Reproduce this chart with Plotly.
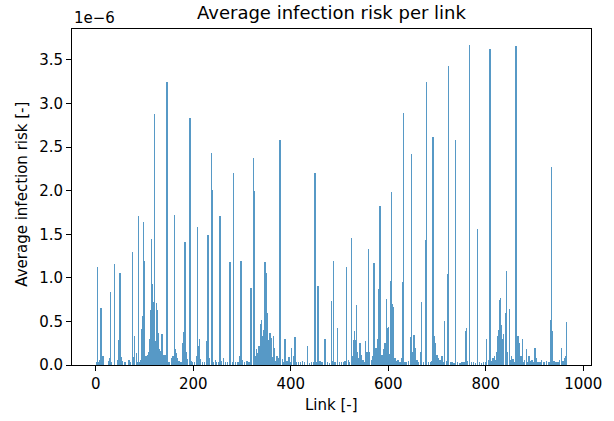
import plotly.graph_objects as go

# (link index, average infection risk in units of 1e-6)
peak_bars = [
    (4, 1.13), (11, 0.65), (30, 0.84), (39, 1.16), (46, 0.29), (49, 0.42), (50, 1.05), (53, 0.09),
    (75, 1.30), (80, 0.33), (87, 0.85), (88, 1.71), (95, 0.41), (96, 0.56), (97, 0.37), (98, 1.64),
    (100, 1.19), (113, 0.63), (114, 1.44), (116, 0.93), (117, 0.52), (118, 0.72), (119, 0.44),
    (121, 2.88), (124, 0.71), (126, 0.63), (128, 0.37), (131, 0.18), (136, 0.36), (138, 0.12),
    (145, 1.00), (146, 3.25), (161, 0.25), (162, 1.72), (164, 0.18), (178, 0.25), (181, 0.38),
    (183, 1.41), (192, 2.04), (193, 2.83), (207, 0.10), (208, 1.58), (210, 0.22), (213, 0.30),
    (227, 0.28), (230, 1.49), (237, 2.43), (238, 2.01), (255, 1.71), (262, 0.08), (275, 1.18),
    (282, 2.20), (283, 2.10), (296, 0.10), (298, 1.19), (318, 0.88), (324, 2.37), (325, 2.00),
    (330, 0.18), (335, 0.22), (339, 0.47), (340, 0.52), (343, 0.33), (344, 0.40), (347, 1.18),
    (348, 0.56), (350, 1.05), (352, 0.60), (354, 0.29), (357, 0.37), (361, 0.31), (364, 0.33),
    (366, 0.20), (378, 2.58), (379, 2.08), (388, 0.30), (401, 0.20), (402, 0.15), (407, 0.25),
    (409, 0.32), (434, 0.22), (450, 2.20), (456, 0.91), (469, 0.25), (470, 0.30), (483, 0.73),
    (488, 1.19), (496, 0.42), (514, 1.13), (524, 1.46), (530, 0.29), (531, 0.39), (533, 0.29),
    (535, 0.69), (542, 0.25), (553, 0.28), (559, 1.33), (571, 1.17), (572, 0.78), (578, 0.30),
    (580, 0.87), (582, 1.45), (583, 1.82), (584, 1.14), (593, 0.25), (596, 0.76), (598, 0.42),
    (600, 0.44), (605, 0.96), (606, 1.99), (607, 0.60), (609, 0.70), (611, 0.66), (630, 0.95),
    (631, 2.89), (646, 0.32), (647, 2.42), (648, 0.41), (653, 0.34), (656, 0.20), (667, 0.15),
    (668, 0.72), (677, 1.43), (678, 3.25), (692, 2.62), (694, 0.33), (697, 0.25), (700, 0.12),
    (715, 0.51), (722, 1.04), (723, 3.43), (738, 2.58), (759, 0.39), (760, 0.43), (766, 0.74),
    (767, 3.67), (783, 1.56), (802, 0.30), (808, 0.73), (809, 3.63), (822, 0.15), (825, 0.33),
    (827, 0.40), (829, 0.75), (830, 0.77), (831, 0.46), (834, 0.30), (836, 0.36), (840, 0.60),
    (842, 1.08), (848, 0.64), (862, 3.66), (863, 0.63), (866, 0.33), (868, 0.25), (875, 0.30),
    (883, 0.18), (901, 0.20), (934, 0.52), (935, 2.27), (936, 0.39), (937, 0.29), (955, 0.20),
    (966, 0.49),
]

low_bars = [
    (1, 0.04), (3, 0.05), (6, 0.03), (9, 0.06), (13, 0.05), (15, 0.10), (26, 0.05), (28, 0.08),
    (32, 0.04), (44, 0.06), (51, 0.19), (55, 0.05), (60, 0.03), (68, 0.06), (70, 0.04), (78, 0.09),
    (83, 0.14), (85, 0.04), (91, 0.04), (93, 0.06), (103, 0.10), (105, 0.04), (107, 0.12),
    (109, 0.15), (111, 0.30), (120, 0.20), (123, 0.27), (129, 0.13), (133, 0.16), (140, 0.06),
    (142, 0.12), (150, 0.03), (155, 0.08), (158, 0.10), (166, 0.14), (168, 0.08), (171, 0.05),
    (175, 0.03), (185, 0.15), (187, 0.07), (196, 0.05), (199, 0.03), (202, 0.04), (212, 0.06),
    (215, 0.07), (219, 0.04), (223, 0.03), (233, 0.08), (242, 0.04), (245, 0.06), (248, 0.03),
    (252, 0.04), (258, 0.05), (266, 0.04), (270, 0.03), (280, 0.04), (287, 0.04), (292, 0.03),
    (301, 0.06), (305, 0.04), (310, 0.05), (314, 0.04), (320, 0.06), (328, 0.10), (332, 0.14),
    (337, 0.12), (345, 0.16), (356, 0.11), (359, 0.16), (363, 0.09), (369, 0.05), (372, 0.10),
    (375, 0.08), (383, 0.07), (386, 0.04), (392, 0.05), (396, 0.09), (398, 0.04), (405, 0.10),
    (412, 0.04), (416, 0.03), (420, 0.03), (424, 0.05), (428, 0.03), (438, 0.02), (443, 0.04),
    (446, 0.03), (453, 0.04), (460, 0.05), (464, 0.03), (475, 0.04), (479, 0.02), (486, 0.05),
    (491, 0.03), (500, 0.03), (504, 0.04), (508, 0.03), (511, 0.05), (518, 0.06), (521, 0.03),
    (527, 0.10), (537, 0.15), (539, 0.08), (545, 0.12), (548, 0.06), (550, 0.04), (556, 0.15),
    (562, 0.15), (565, 0.06), (568, 0.10), (575, 0.20), (587, 0.12), (590, 0.18), (602, 0.13),
    (614, 0.08), (617, 0.05), (620, 0.06), (624, 0.04), (627, 0.08), (634, 0.04), (637, 0.03),
    (641, 0.05), (651, 0.15), (659, 0.06), (662, 0.04), (672, 0.03), (682, 0.03), (686, 0.04),
    (689, 0.05), (699, 0.10), (703, 0.08), (706, 0.06), (710, 0.10), (713, 0.04), (719, 0.05),
    (727, 0.03), (731, 0.04), (735, 0.02), (742, 0.03), (747, 0.02), (751, 0.04), (755, 0.03),
    (763, 0.05), (771, 0.04), (775, 0.03), (779, 0.02), (787, 0.03), (791, 0.02), (795, 0.04),
    (799, 0.03), (805, 0.06), (812, 0.05), (815, 0.08), (818, 0.10), (820, 0.06), (845, 0.15),
    (851, 0.06), (853, 0.10), (856, 0.07), (859, 0.04), (870, 0.06), (872, 0.10), (878, 0.04),
    (880, 0.06), (886, 0.04), (889, 0.10), (892, 0.05), (895, 0.06), (898, 0.04), (904, 0.08),
    (907, 0.04), (911, 0.03), (914, 0.06), (918, 0.04), (921, 0.03), (925, 0.05), (928, 0.03),
    (931, 0.04), (940, 0.05), (944, 0.03), (948, 0.04), (951, 0.06), (958, 0.05), (961, 0.08),
    (964, 0.10),
]

y_ticks = [0.0, 0.5, 1.0, 1.5, 2.0, 2.5, 3.0, 3.5]
x_ticks = [0, 200, 400, 600, 800, 1000]

bars = sorted(peak_bars + low_bars)
links = [b[0] for b in bars]
risk = [b[1] for b in bars]

BLUE = "#1f77b4"
FONT = "DejaVu Sans"
TICK_SIZE = 15
TITLE_SIZE = 18

fig = go.Figure()
fig.add_trace(go.Bar(
    x=links, y=risk, width=0.8,
    marker=dict(color=BLUE, line=dict(width=0)),
    opacity=0.75,
))

axis_common = dict(
    automargin=False,
    showline=True, linecolor="black", linewidth=1, mirror=True,
    ticks="outside", ticklen=5, tickwidth=1, tickcolor="black",
    showgrid=False, zeroline=False,
    tickfont=dict(family=FONT, size=TICK_SIZE, color="black"),
)

fig.update_layout(
    width=614, height=421,
    margin=dict(l=72, r=23, t=29, b=56, autoexpand=False),
    paper_bgcolor="white", plot_bgcolor="white",
    showlegend=False,
    bargap=0,
    xaxis=dict(range=[-48.8, 1015.8], tickvals=x_ticks, **axis_common),
    yaxis=dict(range=[0, 3.855], tickvals=y_ticks, tickformat=".1f", **axis_common),
    annotations=[
        dict(text="Average infection risk per link", x=0.5, y=1.05, xref="paper", yref="paper",
             xanchor="center", yanchor="middle", showarrow=False,
             font=dict(family=FONT, size=TITLE_SIZE, color="black")),
        dict(text="1e\u22126", x=0, y=1.033, xref="paper", yref="paper",
             xanchor="left", yanchor="middle", showarrow=False,
             font=dict(family=FONT, size=TICK_SIZE, color="black")),
        dict(text="Link [-]", x=0.5, y=-0.12, xref="paper", yref="paper",
             xanchor="center", yanchor="middle", showarrow=False,
             font=dict(family=FONT, size=TICK_SIZE, color="black")),
        dict(text="Average infection risk [-]", x=-0.0963, y=0.507, xref="paper", yref="paper",
             xanchor="center", yanchor="middle", showarrow=False, textangle=-90,
             font=dict(family=FONT, size=TICK_SIZE, color="black")),
    ],
)

fig.write_html(
    "out.html",
    config={"displayModeBar": False},
    post_script="document.body.style.margin='0';document.body.style.padding='0';",
)
